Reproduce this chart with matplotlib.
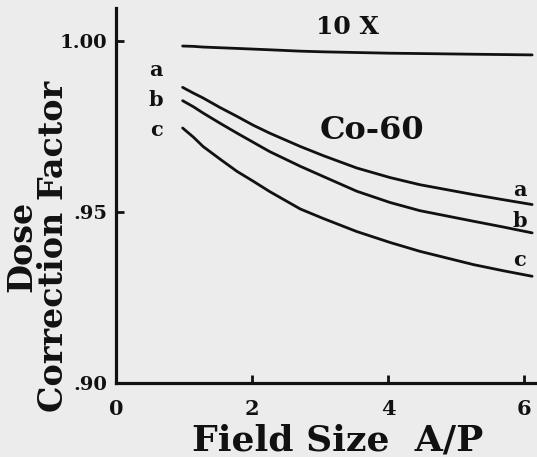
import matplotlib
matplotlib.use("Agg")
import matplotlib.pyplot as plt

# ---- data ----
x_pts = [0.98, 1.14, 1.28, 1.53, 1.78, 2.02, 2.26, 2.71, 3.05, 3.54, 4.03, 4.47, 5.26, 5.70, 6.12]
y_10x = [0.9985, 0.9984, 0.9982, 0.9980, 0.9978, 0.9976, 0.9974, 0.9970, 0.9968, 0.9966,
         0.9964, 0.9963, 0.9961, 0.9960, 0.9959]
y_a = [0.9864, 0.9847, 0.9833, 0.9805, 0.9779, 0.9753, 0.9730, 0.9691, 0.9664, 0.9628,
       0.9600, 0.9579, 0.9550, 0.9535, 0.9521]
y_b = [0.9825, 0.9807, 0.9789, 0.9759, 0.9730, 0.9703, 0.9676, 0.9633, 0.9603, 0.9560,
       0.9527, 0.9503, 0.9472, 0.9455, 0.9438]
y_c = [0.9745, 0.9718, 0.9691, 0.9654, 0.9618, 0.9589, 0.9559, 0.9508, 0.9480, 0.9442,
       0.9410, 0.9384, 0.9345, 0.9327, 0.9311]

x_ticks = [0, 2, 4, 6]
x_tick_labels = ["0", "2", "4", "6"]
y_ticks = [0.90, 0.95, 1.00]
y_tick_labels = [".90", ".95", "1.00"]

curve_names = ["a", "b", "c"]
left_label_y = [0.9915, 0.9827, 0.9740]
right_label_y = [0.9564, 0.9472, 0.9360]

FONT = "DejaVu Serif"
BG = "#ececec"
INK = "#111111"

fig = plt.figure(figsize=(5.37, 4.57), dpi=100, facecolor=BG)
ax = fig.add_axes([0.216, 0.163, 0.780, 0.820])
ax.set_facecolor(BG)

lw = 2.0
ax.plot(x_pts, y_10x, color=INK, lw=lw, solid_capstyle="round", solid_joinstyle="round")
for ys in (y_a, y_b, y_c):
    ax.plot(x_pts, ys, color=INK, lw=lw, solid_capstyle="round", solid_joinstyle="round")

ax.set_xlim(0, 6.16)
ax.set_ylim(0.90, 1.0097)

for s in ("top", "right"):
    ax.spines[s].set_visible(False)
for s in ("left", "bottom"):
    ax.spines[s].set_linewidth(2.3)
    ax.spines[s].set_color(INK)

ax.set_xticks(x_ticks)
ax.set_xticklabels(x_tick_labels, fontfamily=FONT, fontweight="bold", fontsize=15)
ax.set_yticks(y_ticks)
ax.set_yticklabels(y_tick_labels, fontfamily=FONT, fontweight="bold", fontsize=14)
ax.tick_params(axis="both", direction="in", length=6, width=2, colors=INK)
ax.tick_params(axis="x", pad=12)
ax.tick_params(axis="y", pad=6)

tk = dict(fontfamily=FONT, fontweight="bold", color=INK)
ax.text(3.40, 1.0041, "10 X", ha="center", va="center", fontsize=18, **tk)
ax.text(3.76, 0.9738, "Co-60", ha="center", va="center", fontsize=23, **tk)

for name, yl, yr in zip(curve_names, left_label_y, right_label_y):
    ax.text(0.59, yl, name, ha="center", va="center", fontsize=15, **tk)
    ax.text(5.94, yr, name, ha="center", va="center", fontsize=15, **tk)

fig.text(338 / 537, 1 - 450 / 457, "Field Size  A/P", ha="center", va="baseline",
         fontsize=26, **tk)
fig.text(38 / 537, 1 - 246 / 457, "Dose\nCorrection Factor", ha="center", va="center",
         multialignment="center", rotation=90, linespacing=0.95, fontsize=24, **tk)

fig.savefig("out.png", dpi=100, facecolor=BG)
